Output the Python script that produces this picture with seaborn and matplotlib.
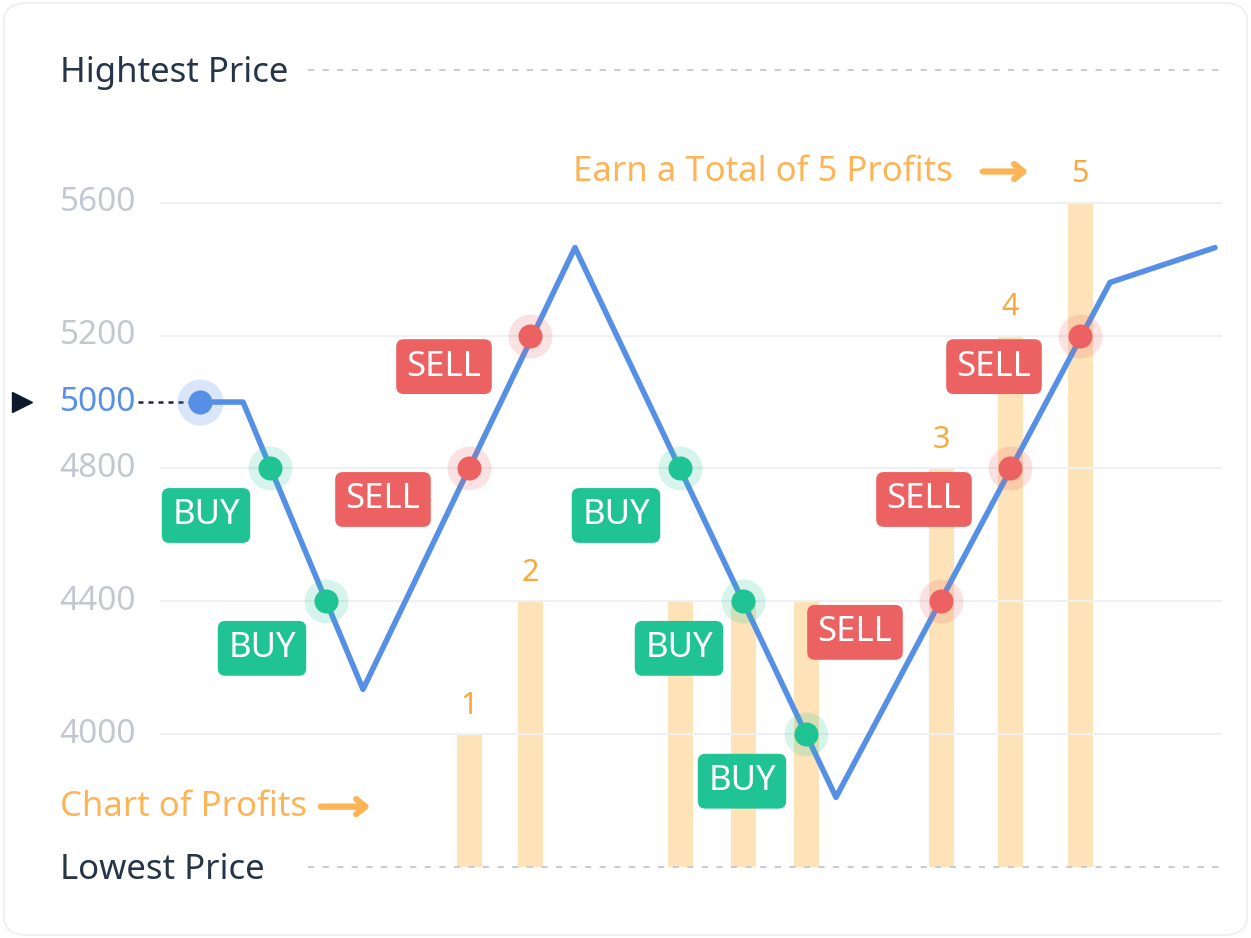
import matplotlib
matplotlib.use("Agg")
import pandas as pd
import seaborn as sns
from matplotlib import pyplot as plt
from matplotlib.patches import FancyBboxPatch

# price path (time index, price)
line_t = [0, 4.3, 16.3, 37.5, 63.6, 91.0, 101.5]
line_price = [5000, 5000, 4135, 5465, 3810, 5360, 5465]

# grid orders
buy_t = [7.0, 12.6, 48.0, 54.3, 60.6]
buy_price = [4800, 4400, 4800, 4400, 4000]
sell_t = [26.9, 33.0, 74.1, 81.0, 88.0]
sell_price = [4800, 5200, 4400, 4800, 5200]

# cumulative profits
profit_t = [26.9, 33.0, 48.0, 54.3, 60.6, 74.1, 81.0, 88.0]
profit_count = [1, 2, 2, 2, 2, 3, 4, 5]

grid_levels = [4000, 4400, 4800, 5200, 5600]
start_price = 5000
highest_price = 6000
lowest_price = 3600

BLUE = "#5590e6"
GREEN = "#20c393"
RED = "#ec6161"
ORANGE = "#fdb456"
BAR = "#fee0b2"
NAVY = "#253447"
GREY_TXT = "#c3c8d0"

sns.set_theme(style="white")
plt.rcParams["font.family"] = ["Noto Sans", "DejaVu Sans"]

fig = plt.figure(figsize=(12.51, 9.38), dpi=100)
fig.patch.set_facecolor("white")
fig.patches.append(FancyBboxPatch((0.003, 0.003), 0.994, 0.994,
                                  boxstyle="round,pad=0,rounding_size=0.02",
                                  transform=fig.transFigure, fc="none",
                                  ec="#eceef1", lw=1.2, zorder=0))

ax2 = fig.add_axes([0, 0.0402, 1, 0.9207])
ax = fig.add_axes([0, 0.0402, 1, 0.9207], sharex=ax2)
ax.set_zorder(2)
ax2.set_zorder(1)
ax.patch.set_visible(False)
for a in (ax, ax2):
    a.set_xlim(-20, 105.1)
    a.axis("off")
ax.set_ylim(3500, 6100)
# profit count scale: 0 at lowest price, one profit per 400
ax2.set_ylim((3500 - lowest_price) / 400, (6100 - lowest_price) / 400)

# grid lines
ax.hlines(grid_levels, -4, 102.2, color="#eef0f3", lw=1.5, zorder=0)
ax.hlines([highest_price, lowest_price], 10.8, 102.2, color="#c9cdd3",
          lw=1.5, linestyles=(0, (3, 4)), zorder=0)

for lvl in grid_levels:
    ax.text(-6.4, lvl, str(lvl), ha="right", va="center", fontsize=24, color=GREY_TXT)
ax.text(-6.4, start_price, str(start_price), ha="right", va="center", fontsize=24, color=BLUE)
ax.plot([-6.2, -1], [start_price, start_price], color="#1b2233", lw=1.8, ls=(0, (2, 2)))
ax.plot([-17.8], [start_price], marker=">", color="#0f1a2e", ms=15)

arrow = dict(arrowstyle="->,head_length=0.55,head_width=0.45", color=ORANGE, lw=4.5)
ax.text(-14, highest_price - 10, "Hightest Price", ha="left", va="center", fontsize=25, color=NAVY)
ax.text(-14, lowest_price - 10, "Lowest Price", ha="left", va="center", fontsize=25, color=NAVY)
ax.text(-14, 3780, "Chart of Profits", ha="left", va="center", fontsize=25, color=ORANGE)
ax.annotate("", xy=(17.3, 3782), xytext=(11.8, 3782), arrowprops=arrow)
ax.text(37.3, 5692, "Earn a Total of 5 Profits", ha="left", va="center", fontsize=25, color=ORANGE)
ax.annotate("", xy=(83.1, 5694), xytext=(78.0, 5694), arrowprops=arrow)

# profit bars
ax2.bar(profit_t, profit_count, width=2.5, color=BAR, alpha=0.9, lw=0)
prev = 0
for t, c in zip(profit_t, profit_count):
    if c > prev:
        ax2.text(t, c + 0.1, str(c), ha="center", va="bottom", fontsize=22, color="#f7a93c")
    prev = c

# price line
df_line = pd.DataFrame({"t": line_t, "price": line_price})
sns.lineplot(data=df_line, x="t", y="price", ax=ax, color=BLUE, lw=4, sort=False, zorder=3)

df_buy = pd.DataFrame({"t": buy_t, "price": buy_price})
df_sell = pd.DataFrame({"t": sell_t, "price": sell_price})
for df, col in ((df_buy, GREEN), (df_sell, RED)):
    sns.scatterplot(data=df, x="t", y="price", ax=ax, s=1000, color=col, alpha=0.18,
                    linewidth=0, zorder=4)
    sns.scatterplot(data=df, x="t", y="price", ax=ax, s=300, color=col,
                    linewidth=0, zorder=5)
ax.scatter([0], [start_price], s=1100, color=BLUE, alpha=0.22, lw=0, zorder=4)
ax.scatter([0], [start_price], s=300, color=BLUE, lw=0, zorder=5)

box = dict(boxstyle="round,pad=0.3,rounding_size=0.22", ec="none")
for t, p in zip(buy_t, buy_price):
    ax.annotate("BUY", xy=(t, p), xytext=(-64, -47), textcoords="offset pixels",
                ha="center", va="center", fontsize=25, color="white", zorder=6,
                bbox={**box, "fc": GREEN})
for t, p in zip(sell_t, sell_price):
    ax.annotate("SELL", xy=(t, p), xytext=(-86, -31), textcoords="offset pixels",
                ha="center", va="center", fontsize=25, color="white", zorder=6,
                bbox={**box, "fc": RED})

fig.savefig("out.png", dpi=100)
